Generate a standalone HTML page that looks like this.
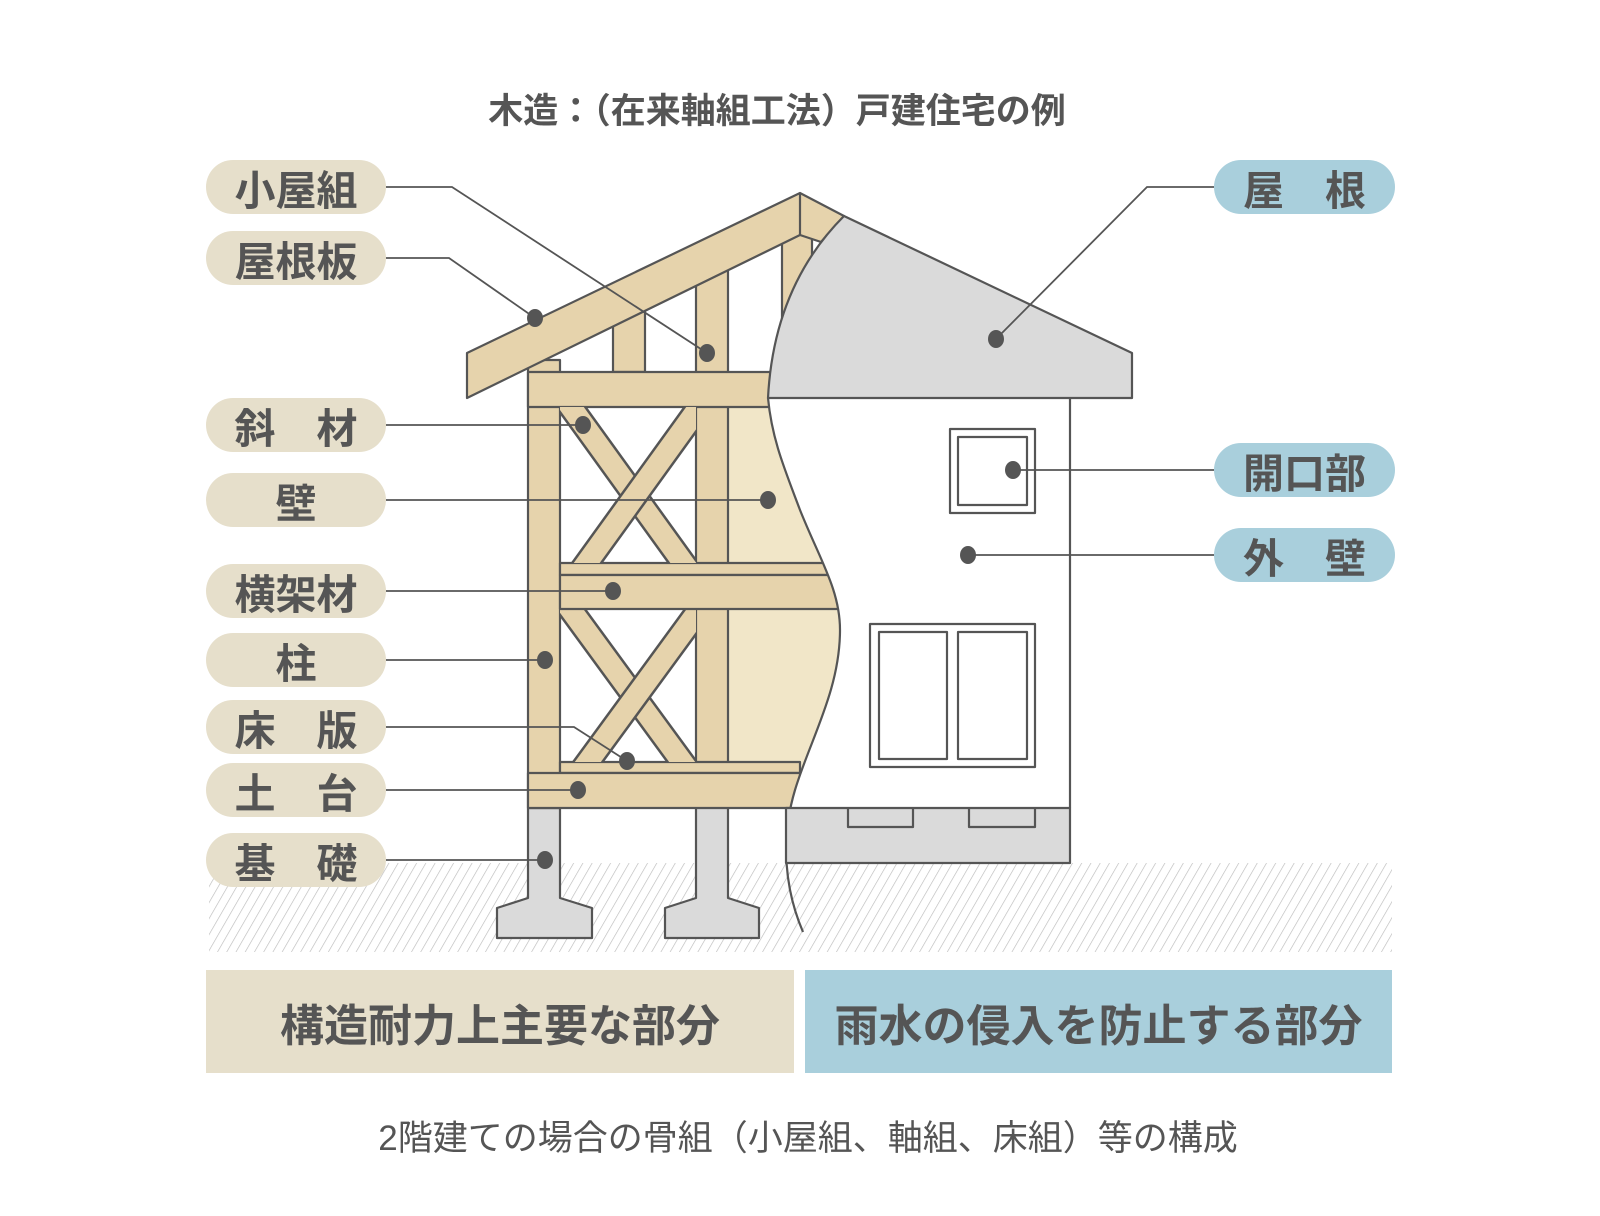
<!DOCTYPE html>
<html><head><meta charset="utf-8"><style>
html,body{margin:0;padding:0;background:#fff;}
body{width:1600px;height:1216px;position:relative;overflow:hidden;font-family:"Liberation Sans","Noto Sans CJK JP",sans-serif;}
.t{position:absolute;color:#555;font-weight:bold;white-space:nowrap;}
.pill{position:absolute;height:54px;border-radius:27px;display:flex;align-items:center;justify-content:center;font-size:41px;font-weight:bold;color:#555;}
.l{left:206px;width:180px;background:#e6dfcb;}
.r{left:1214px;width:181px;background:#a9cfdc;}
</style></head><body>
<svg width="1600" height="1216" style="position:absolute;left:0;top:0">
<defs>
<pattern id="h" width="8" height="8" patternUnits="userSpaceOnUse" patternTransform="rotate(30)">
<line x1="0" y1="0" x2="0" y2="8" stroke="#bbb" stroke-width="1.3"/></pattern>
<clipPath id="c1"><rect x="560" y="407" width="136" height="156"/></clipPath>
<clipPath id="c2"><rect x="560" y="609" width="136" height="153"/></clipPath>
</defs>
<g stroke="#555" stroke-width="2.2" stroke-linejoin="round">
<rect x="209" y="863" width="1183" height="89" fill="url(#h)" stroke="none"/>
<path d="M528,808 L528,898 L497,908 L497,938 L592,938 L592,908 L560,898 L560,808" fill="#dadada"/>
<path d="M696,808 L696,898 L665,908 L665,938 L759,938 L759,908 L728,898 L728,808" fill="#dadada"/>
<rect x="728" y="407" width="120" height="366" fill="#f1e6c8" stroke="none"/>
<rect x="528" y="360" width="32" height="448" fill="#e6d3ac"/>
<rect x="613" y="300" width="32" height="72" fill="#e6d3ac"/>
<rect x="696" y="260" width="32" height="513" fill="#e6d3ac"/>
<rect x="782" y="225" width="30" height="147" fill="#e6d3ac"/>
<path d="M467,353 L800,193 L844,216 L821,242 L800,235 L467,398 Z" fill="#e6d3ac"/>
<line x1="800" y1="193" x2="800" y2="235"/>
<rect x="528" y="372" width="254" height="35" fill="#e6d3ac"/>
<rect x="560" y="563" width="275" height="12" fill="#e6d3ac"/>
<rect x="560" y="762" width="240" height="11" fill="#e6d3ac"/>
<g clip-path="url(#c1)">
<line x1="560" y1="392" x2="710" y2="600" stroke-width="26"/><line x1="560" y1="392" x2="710" y2="600" stroke="#e6d3ac" stroke-width="21"/>
<line x1="710" y1="392" x2="560" y2="600" stroke-width="26"/><line x1="710" y1="392" x2="560" y2="600" stroke="#e6d3ac" stroke-width="21"/>
</g>
<g clip-path="url(#c2)">
<line x1="560" y1="595" x2="710" y2="800" stroke-width="26"/><line x1="560" y1="595" x2="710" y2="800" stroke="#e6d3ac" stroke-width="21"/>
<line x1="710" y1="595" x2="560" y2="800" stroke-width="26"/><line x1="710" y1="595" x2="560" y2="800" stroke="#e6d3ac" stroke-width="21"/>
</g>
<rect x="560" y="575" width="280" height="34" fill="#e6d3ac"/>
<rect x="528" y="773" width="272" height="35" fill="#e6d3ac"/>
<path d="M768,398 C772,440 785,470 800,510 C820,560 840,590 840,630 C840,690 810,740 795,790 L790,808 L1070,808 L1070,398 Z" fill="#fff" stroke="none"/>
<path d="M768,398 C772,440 785,470 800,510 C820,560 840,590 840,630 C840,690 810,740 795,790 C780,840 785,890 803,932" fill="none"/>
<line x1="1070" y1="398" x2="1070" y2="808"/>
<rect x="786" y="808" width="284" height="55" fill="#dadada"/>
<path d="M848,808 L848,827 L913,827 L913,808 M969,808 L969,827 L1035,827 L1035,808" fill="none"/>
<path d="M844,216 L1132,353 L1132,398 L768,398 C772,320 800,260 844,216 Z" fill="#dadada"/>
<rect x="950" y="429" width="85" height="84" fill="#fff"/>
<rect x="958" y="437" width="69" height="68" fill="#fff"/>
<rect x="870" y="624" width="165" height="143" fill="#fff"/>
<rect x="879" y="632" width="68" height="127" fill="#fff"/>
<rect x="958" y="632" width="69" height="127" fill="#fff"/>
</g>
<g stroke="#555" stroke-width="1.8" fill="none">
<polyline points="386,187 452,187 707,353"/>
<polyline points="386,258 449,258 535,318"/>
<polyline points="386,425 583,425"/>
<polyline points="386,500 768,500"/>
<polyline points="386,591 613,591"/>
<polyline points="386,660 545,660"/>
<polyline points="386,727 574,727 627,761"/>
<polyline points="386,790 578,790"/>
<polyline points="386,860 545,860"/>
<polyline points="1214,187 1147,187 996,339"/>
<polyline points="1214,470 1013,470"/>
<polyline points="1214,555 968,555"/>
</g>
<g fill="#555">
<ellipse cx="707" cy="353" rx="8" ry="9"/><ellipse cx="535" cy="318" rx="8" ry="9"/>
<ellipse cx="583" cy="425" rx="8" ry="9"/><ellipse cx="768" cy="500" rx="8" ry="9"/>
<ellipse cx="613" cy="591" rx="8" ry="9"/><ellipse cx="545" cy="660" rx="8" ry="9"/>
<ellipse cx="627" cy="761" rx="8" ry="9"/><ellipse cx="578" cy="790" rx="8" ry="9"/>
<ellipse cx="545" cy="860" rx="8" ry="9"/><ellipse cx="996" cy="339" rx="8" ry="9"/>
<ellipse cx="1013" cy="470" rx="8" ry="9"/><ellipse cx="968" cy="555" rx="8" ry="9"/>
</g>
</svg>
<div class="t" style="left:0;width:1554px;text-align:center;top:83px;font-size:35px;">木造：（在来軸組工法）戸建住宅の例</div>
<div class="pill l" style="top:160px">小屋組</div>
<div class="pill l" style="top:231px">屋根板</div>
<div class="pill l" style="top:398px">斜　材</div>
<div class="pill l" style="top:473px">壁</div>
<div class="pill l" style="top:564px">横架材</div>
<div class="pill l" style="top:633px">柱</div>
<div class="pill l" style="top:700px">床　版</div>
<div class="pill l" style="top:763px">土　台</div>
<div class="pill l" style="top:833px">基　礎</div>
<div class="pill r" style="top:160px">屋　根</div>
<div class="pill r" style="top:443px">開口部</div>
<div class="pill r" style="top:528px">外　壁</div>
<div class="t" style="left:206px;top:970px;width:588px;height:103px;background:#e6dfcb;display:flex;align-items:center;justify-content:center;font-size:44px;">構造耐力上主要な部分</div>
<div class="t" style="left:805px;top:970px;width:587px;height:103px;background:#a9cfdc;display:flex;align-items:center;justify-content:center;font-size:44px;">雨水の侵入を防止する部分</div>
<div class="t" style="left:0;width:1616px;text-align:center;top:1110px;font-size:35px;font-weight:normal;">2階建ての場合の骨組（小屋組、軸組、床組）等の構成</div>
</body></html>
